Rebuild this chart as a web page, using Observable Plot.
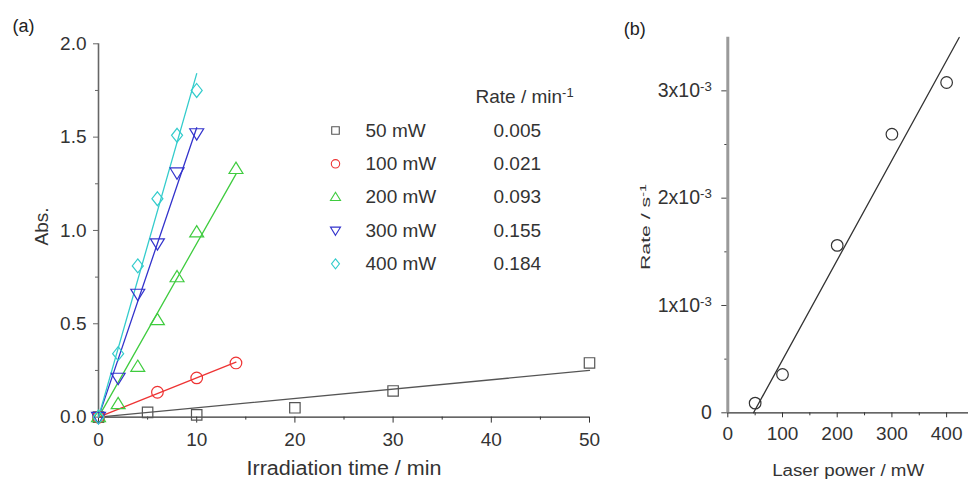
<!DOCTYPE html>
<html><head><meta charset="utf-8">
<script src="https://cdn.jsdelivr.net/npm/d3@7"></script>
<script src="https://cdn.jsdelivr.net/npm/@observablehq/plot@0.6"></script>
<style>
body{margin:0;background:#fff;}
#wrap{position:relative;width:968px;height:485px;overflow:hidden;background:#fff;}
#wrap svg{position:absolute;top:0;}
</style></head><body><div id="wrap"></div>
<script>
// ---------- data: panel (a) ----------
const series = ["50 mW", "100 mW", "200 mW", "300 mW", "400 mW"];
const rates = [0.005, 0.021, 0.093, 0.155, 0.184];           // Rate / min^-1 (fit slopes)
const colors = ["#555555", "#ee3333", "#3fcc3f", "#3333cc", "#33cccc"];
const fitEnd = [50, 14, 14, 10, 10];                           // last time of each fit line
const t50 = [0, 5, 10, 20, 30, 50];   const a50 = [0, 0.025, 0.012, 0.05, 0.14, 0.29];
const t100 = [0, 6, 10, 14];          const a100 = [0, 0.133, 0.21, 0.29];
const t200 = [0, 2, 4, 6, 8, 10, 14]; const a200 = [0, 0.07, 0.27, 0.52, 0.75, 0.99, 1.33];
const t300 = [0, 2, 4, 6, 8, 10];     const a300 = [0, 0.21, 0.66, 0.93, 1.31, 1.52];
const t400 = [0, 2, 4, 6, 8, 10];     const a400 = [0, 0.34, 0.81, 1.17, 1.51, 1.75];
const xTicksA = [0, 10, 20, 30, 40, 50];
const yTicksA = [0, 0.5, 1.0, 1.5, 2.0];
// ---------- data: panel (b) ----------
const powers = [50, 100, 200, 300, 400];
const rateS = [0.09e-3, 0.357e-3, 1.56e-3, 2.596e-3, 3.078e-3];
const fitP = [47, 423];            // range of the linear fit
const fitSlope = 9.3e-6;           // s^-1 per mW
const xTicksB = [0, 100, 200, 300, 400];
const yTicksB = [0, 1e-3, 2e-3, 3e-3];

const FONT = '"Liberation Sans", Arial, Helvetica, sans-serif';

// ---------- symbols ----------
function sym(fn) { return { draw(ctx, size) { fn(ctx, Math.sqrt(size / Math.PI)); } }; }
const symSquare = sym((c, r) => { const s = r * 0.9; c.moveTo(-s, -s); c.lineTo(s, -s); c.lineTo(s, s); c.lineTo(-s, s); c.closePath(); });
const symCircle = sym((c, r) => { c.moveTo(r, 0); c.arc(0, 0, r, 0, 2 * Math.PI); c.closePath(); });
const symTriUp = sym((c, r) => { c.moveTo(0, -r * 1.15); c.lineTo(r * 1.2, r * 0.8); c.lineTo(-r * 1.2, r * 0.8); c.closePath(); });
const symTriDown = sym((c, r) => { c.moveTo(0, r * 1.15); c.lineTo(r * 1.2, -r * 0.8); c.lineTo(-r * 1.2, -r * 0.8); c.closePath(); });
const symDiamond = sym((c, r) => { c.moveTo(0, -r * 1.2); c.lineTo(r * 0.95, 0); c.lineTo(0, r * 1.2); c.lineTo(-r * 0.95, 0); c.closePath(); });
const symbols = [symSquare, symCircle, symTriUp, symTriDown, symDiamond];

const tData = [t50, t100, t200, t300, t400];
const aData = [a50, a100, a200, a300, a400];
const pointsA = series.flatMap((s, i) => tData[i].map((t, j) => ({ series: s, i, t, a: aData[i][j] })));
const fitA = series.flatMap((s, i) => [0, fitEnd[i]].map(t => ({ series: s, i, t, a: rates[i] * t })));

// superscript post-processing: "base^sup"
function supify(svg) {
  svg.querySelectorAll("text").forEach(el => {
    if (el.children.length) {
      el.querySelectorAll("tspan").forEach(ts => fix(ts));
    } else fix(el);
  });
  function fix(el) {
    const s = el.textContent;
    if (!s.includes("^")) return;
    const [base, sup] = s.split("^");
    el.textContent = "";
    const ns = "http://www.w3.org/2000/svg";
    const t1 = document.createElementNS(ns, "tspan"); t1.textContent = base;
    const t2 = document.createElementNS(ns, "tspan"); t2.textContent = sup;
    t2.setAttribute("dy", "-0.45em"); t2.setAttribute("font-size", "0.68em");
    el.appendChild(t1); el.appendChild(t2);
  }
}
// stretch a title text to a given length (the original figure's lettering is wide)
function stretch(svg, startsWith, len) {
  svg.querySelectorAll("text").forEach(el => {
    if (el.textContent.startsWith(startsWith)) {
      el.setAttribute("textLength", len);
      el.setAttribute("lengthAdjust", "spacingAndGlyphs");
    }
  });
}

const wrap = document.getElementById("wrap");

// ---------- panel (a) ----------
const plotA = Plot.plot({
  width: 610, height: 485,
  marginLeft: 98, marginRight: 21, marginTop: 43.3, marginBottom: 68.4,
  x: { domain: [0, 50] },
  y: { domain: [0, 2] },
  style: { fontFamily: FONT, fontSize: "19px", color: "#333", background: "transparent", overflow: "visible" },
  marks: [
    Plot.axisY({ ticks: yTicksA, tickFormat: d3.format(".1f"), tickSize: 5, tickPadding: 7, label: null, stroke: "#666", fontSize: 19 }),
    Plot.axisY(d3.range(0.25, 2, 0.5), { tickSize: 3, tickFormat: () => "", label: null, stroke: "#666" }),
    Plot.axisX({ ticks: xTicksA, tickSize: 6, tickPadding: 9, label: null, stroke: "#333", fontSize: 19 }),
    Plot.axisX(d3.range(5, 50, 10), { tickSize: 3, tickFormat: () => "", label: null, stroke: "#333" }),
    Plot.ruleX([0], { stroke: "#666", strokeWidth: 1.6 }),
    Plot.ruleY([0], { stroke: "#333", strokeWidth: 1.3 }),
    Plot.line(fitA, { x: "t", y: "a", z: "series", stroke: d => colors[d.i], strokeWidth: 1.3 }),
    ...series.map((s, i) => Plot.dot(pointsA.filter(d => d.i === i), {
      x: "t", y: "a", symbol: symbols[i], r: 5.8, stroke: colors[i], fill: "none", strokeWidth: 1.2
    })),
    Plot.text(["Abs."], { text: d => d, frameAnchor: "left", textAnchor: "middle", dx: -57, dy: -4, rotate: -90, fontSize: 19, fill: "#333" }),
    Plot.text(["Irradiation time / min"], { text: d => d, frameAnchor: "bottom", dy: 58, fontSize: 20, fill: "#333" }),
    Plot.text(["(a)"], { text: d => d, frameAnchor: "top-left", dx: -86, dy: -25, fontSize: 18, fill: "#222" })
  ]
});
plotA.style.left = "0px";
stretch(plotA, "Irradiation", 195);
wrap.appendChild(plotA);

// ---------- legend of panel (a) ----------
const legendRows = series.map((s, i) => ({ row: i + 1, i, label: s, rate: rates[i].toFixed(3) }));
const legend = Plot.plot({
  width: 270, height: 200, margin: 0,
  y: { domain: [-0.5, 5.5], reverse: true, axis: null },
  x: { domain: [0, 270], axis: null },
  style: { fontFamily: FONT, fontSize: "19px", color: "#333", background: "transparent", overflow: "visible" },
  marks: [
    ...series.map((s, i) => Plot.dot(legendRows.filter(d => d.i === i), {
      y: "row", frameAnchor: "left", dx: 15, symbol: symbols[i], r: 4.2, stroke: colors[i], fill: "none", strokeWidth: 1.1
    })),
    Plot.text(legendRows, { y: "row", text: "label", frameAnchor: "left", dx: 45, textAnchor: "start", fontSize: 19, fill: "#333" }),
    Plot.text(legendRows, { y: "row", text: "rate", frameAnchor: "left", dx: 173, textAnchor: "start", fontSize: 19, fill: "#333" }),
    Plot.text([{ row: 0, label: "Rate / min^-1" }], { y: "row", text: "label", frameAnchor: "left", dx: 155, textAnchor: "start", fontSize: 19, fill: "#333" })
  ]
});
legend.style.left = "320px";
legend.style.top = "80px";
supify(legend);
wrap.appendChild(legend);

// ---------- panel (b) ----------
const pointsB = powers.map((p, i) => ({ p, r: rateS[i] }));
const fitB = fitP.map(p => ({ p, r: fitSlope * (p - fitP[0]) }));
const fmtB = d => d === 0 ? "0" : `${Math.round(d * 1000)}x10^-3`;
const plotB = Plot.plot({
  width: 358, height: 485,
  marginLeft: 117.3, marginRight: 0, marginTop: 36.7, marginBottom: 72.7,
  x: { domain: [0, 440] },
  y: { domain: [0, 3.5e-3] },
  style: { fontFamily: FONT, fontSize: "19px", color: "#333", background: "transparent", overflow: "visible" },
  marks: [
    Plot.axisY({ ticks: yTicksB, tickFormat: fmtB, tickSize: 6, tickPadding: 10, label: null, stroke: "#444", fontSize: 19.5 }),
    Plot.axisY([0.5e-3, 1.5e-3, 2.5e-3], { tickSize: 3, tickFormat: () => "", label: null, stroke: "#444" }),
    Plot.axisX({ ticks: xTicksB, tickSize: 5, tickPadding: 9, label: null, stroke: "#333", fontSize: 19 }),
    Plot.axisX([50, 150, 250, 350], { tickSize: 3, tickFormat: () => "", label: null, stroke: "#333" }),
    Plot.ruleY([0], { stroke: "#333", strokeWidth: 1.2 }),
    Plot.ruleX([0], { stroke: "#9a9a9a", strokeWidth: 3 }),
    Plot.line(fitB, { x: "p", y: "r", stroke: "#333", strokeWidth: 1.3 }),
    Plot.dot(pointsB, { x: "p", y: "r", symbol: symCircle, r: 5.8, stroke: "#333", fill: "none", strokeWidth: 1.2 }),
    Plot.text(["Rate / s^-1"], { text: d => d, frameAnchor: "left", textAnchor: "middle", dx: -82, dy: 2, rotate: -90, fontSize: 13, fill: "#333" }),
    Plot.text(["Laser power / mW"], { text: d => d, frameAnchor: "bottom", dy: 63, fontSize: 16, fill: "#333" }),
    Plot.text(["(b)"], { text: d => d, frameAnchor: "top-left", dx: -104, dy: -15, fontSize: 18, fill: "#222" })
  ]
});
plotB.style.left = "610px";
supify(plotB);
stretch(plotB, "Rate", 86);
stretch(plotB, "Laser", 152);
wrap.appendChild(plotB);
</script>
</body></html>
